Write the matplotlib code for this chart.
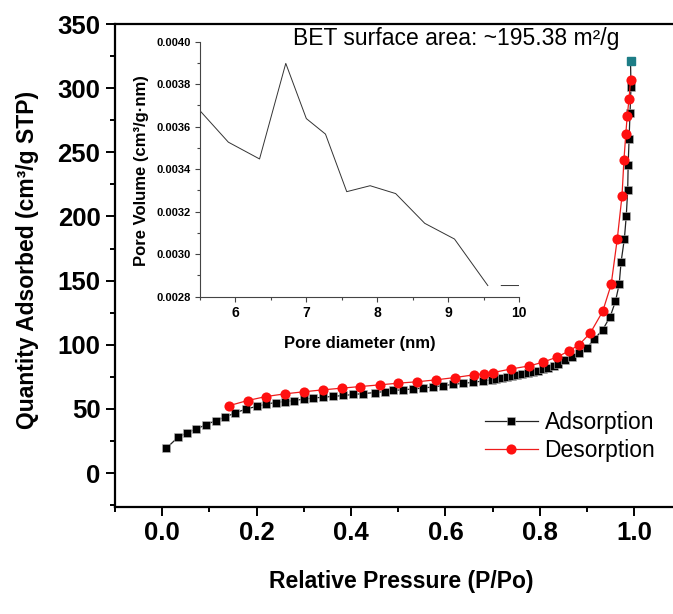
import numpy as np
import matplotlib
matplotlib.use('Agg')
import matplotlib.pyplot as plt
from matplotlib.ticker import MultipleLocator, FormatStrFormatter

plt.rcParams['font.family'] = ['Liberation Sans', 'DejaVu Sans']

# ---- main isotherm data ----
ads_x = [0.009, 0.033, 0.053, 0.072, 0.092, 0.113, 0.134, 0.155, 0.178, 0.200,
         0.220, 0.240, 0.260, 0.280, 0.300, 0.320, 0.341, 0.362, 0.383, 0.405,
         0.426, 0.451, 0.472, 0.489, 0.510, 0.532, 0.553, 0.574, 0.595, 0.617,
         0.638, 0.659, 0.680, 0.698, 0.708, 0.719, 0.730, 0.741, 0.752, 0.763,
         0.774, 0.785, 0.796, 0.807, 0.818, 0.829, 0.839, 0.853, 0.867, 0.883,
         0.899, 0.915, 0.933, 0.949, 0.960, 0.968, 0.972, 0.979, 0.983, 0.986,
         0.987, 0.989, 0.991, 0.993, 0.992]
ads_y = [19.5, 27.8, 31.5, 34.3, 37.7, 40.8, 43.8, 47.0, 50.0, 52.0,
         53.8, 55.0, 55.8, 56.6, 57.7, 58.5, 59.2, 59.8, 60.5, 61.3,
         62.0, 62.8, 63.6, 64.4, 65.0, 65.6, 66.3, 67.2, 68.2, 69.2,
         70.0, 70.8, 71.8, 72.8, 73.4, 74.0, 74.7, 75.5, 76.3, 77.1,
         78.0, 78.9, 79.9, 80.9, 82.0, 83.2, 84.8, 88.0, 90.4, 93.5,
         97.4, 104.4, 111.7, 122.0, 133.8, 147.2, 164.5, 182.7, 200.5, 220.3,
         240.3, 260.5, 281.0, 301.0, 321.0]

des_x = [0.992, 0.989, 0.985, 0.982, 0.978, 0.974, 0.964, 0.951, 0.933, 0.907,
         0.883, 0.862, 0.836, 0.806, 0.778, 0.738, 0.701, 0.682, 0.660, 0.620,
         0.580, 0.540, 0.500, 0.461, 0.420, 0.380, 0.340, 0.300, 0.260, 0.220,
         0.181, 0.141]
des_y = [306.4, 291.8, 278.4, 264.2, 243.7, 216.2, 182.6, 147.0, 126.0, 109.3,
         100.0, 95.3, 90.4, 86.4, 83.6, 81.1, 78.4, 77.4, 76.6, 74.5,
         72.7, 71.2, 70.1, 68.8, 67.5, 66.2, 64.9, 63.4, 61.8, 59.7,
         56.6, 52.5]

# ---- inset pore size distribution ----
pore_d = [5.50, 5.90, 6.34, 6.71, 7.00, 7.27, 7.57, 7.90, 8.26, 8.67, 9.09, 9.56,
          np.nan, 9.75, 10.0]
pore_v = [0.003675, 0.003527, 0.003448, 0.003898, 0.003638, 0.003565, 0.003294,
          0.003322, 0.003285, 0.003145, 0.003071, 0.002852,
          np.nan, 0.002852, 0.002852]

bet_text = 'BET surface area: ~195.38 m\u00b2/g'

W, H = 673, 614
fig = plt.figure(figsize=(W / 100, H / 100), dpi=100)
fig.patch.set_facecolor('white')


def box(l, t, r, b):
    return [l / W, 1 - b / H, (r - l) / W, (b - t) / H]


ax = fig.add_axes(box(115, 24, 681.5, 506.5))
ax.set_xlim(-0.1, 1.1)
ax.set_ylim(-26, 350)

l1, = ax.plot(ads_x, ads_y, '-', color='#222222', lw=0.9, marker='s', ms=5.8,
              mfc='black', mec='#bbbbbb', mew=0.4, label='Adsorption', zorder=3)
l2, = ax.plot(des_x, des_y, '-', color='#ee1c1c', lw=0.9, marker='o', ms=7.3,
              mfc='#ff1010', mec='#ff1010', mew=0.0, label='Desorption', zorder=4)
ax.plot(ads_x[-1:], ads_y[-1:], 's', ms=5.8, color='#1d7d86', zorder=5)

for s in ax.spines.values():
    s.set_linewidth(1.6)
ax.xaxis.set_major_locator(MultipleLocator(0.2))
ax.xaxis.set_minor_locator(MultipleLocator(0.1))
ax.yaxis.set_major_locator(MultipleLocator(50))
ax.yaxis.set_minor_locator(MultipleLocator(25))
ax.xaxis.set_major_formatter(FormatStrFormatter('%.1f'))
ax.tick_params(which='both', direction='out', top=False, right=False, width=1.4)
ax.tick_params(which='major', length=6.5, labelsize=18.5, pad=4)
ax.tick_params(which='minor', length=3.8)
for lab in ax.get_xticklabels() + ax.get_yticklabels():
    lab.set_fontweight('bold')

ax.set_xlabel('Relative Pressure (P/Po)', fontsize=16.5, fontweight='bold')
ax.set_ylabel('Quantity Adsorbed (cm\u00b3/g STP)', fontsize=16.5, fontweight='bold')
ax.xaxis.set_label_coords(0.505, -0.131)
ax.yaxis.set_label_coords(-0.135, 0.51)

leg = ax.legend(handles=[l1, l2], loc='upper left',
                bbox_to_anchor=(485 / W, 1 - 411 / H), bbox_transform=fig.transFigure,
                frameon=False, fontsize=16.5, borderpad=0, borderaxespad=0,
                handlelength=2.3, handletextpad=0.3, labelspacing=0.22)

fig.text(293 / W, 1 - 45 / H, bet_text, fontsize=16.5, va='baseline', ha='left')

# inset
ax2 = fig.add_axes(box(200, 41.7, 519, 296.6))
ax2.patch.set_alpha(0)
ax2.plot(pore_d, pore_v, '-', color='#333333', lw=0.7)
ax2.set_xlim(5.5, 10)
ax2.set_ylim(0.0028, 0.0040)
ax2.spines['top'].set_visible(False)
ax2.spines['right'].set_visible(False)
for s in ('left', 'bottom'):
    ax2.spines[s].set_linewidth(0.8)
    ax2.spines[s].set_color('#444444')
ax2.xaxis.set_major_locator(MultipleLocator(1))
ax2.xaxis.set_minor_locator(MultipleLocator(0.5))
ax2.yaxis.set_major_locator(MultipleLocator(0.0002))
ax2.yaxis.set_minor_locator(MultipleLocator(0.0001))
ax2.yaxis.set_major_formatter(FormatStrFormatter('%.4f'))
ax2.tick_params(which='both', direction='out', width=0.8, color='#444444')
ax2.tick_params(which='major', length=3.5, pad=3)
ax2.tick_params(which='minor', length=2)
ax2.tick_params(axis='y', labelsize=8)
ax2.tick_params(axis='x', labelsize=10)
for lab in ax2.get_xticklabels() + ax2.get_yticklabels():
    lab.set_fontweight('bold')
ax2.set_xlabel('Pore diameter (nm)', fontsize=12, fontweight='bold')
ax2.set_ylabel('Pore Volume (cm\u00b3/g\u00b7nm)', fontsize=12, fontweight='bold')
ax2.xaxis.set_label_coords(0.5, -0.155)
ax2.yaxis.set_label_coords(-0.161, 0.493)

fig.savefig('out.png', dpi=100, facecolor='white')
